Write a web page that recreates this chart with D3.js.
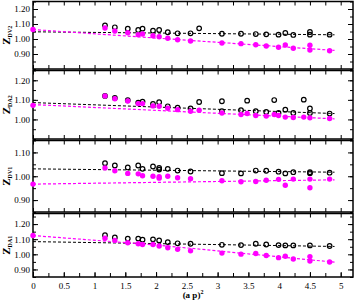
<!DOCTYPE html>
<html>
<head>
<meta charset="utf-8">
<script src="https://cdn.jsdelivr.net/npm/d3@7"></script>
<style>
  body { margin: 0; background: #fff; }
  text { font-family: "Liberation Serif", "Times New Roman", serif; }
</style>
</head>
<body>
<svg id="chart" width="355" height="300"></svg>
<script>
'use strict';

// ---- data ----
var xTicks = [0, 0.5, 1, 1.5, 2, 2.5, 3, 3.5, 4, 4.5, 5];

// Z_DV2
var dv2Open = [[1.17,1.091],[1.33,1.078],[1.54,1.069],[1.71,1.060],[1.78,1.069],[1.95,1.055],[2.05,1.060],[2.19,1.045],[2.35,1.038],[2.56,1.038],[2.70,1.071],[3.07,1.035],[3.38,1.035],[3.62,1.033],[3.79,1.031],[3.99,1.029],[4.10,1.040],[4.23,1.027],[4.50,1.047],[4.50,1.029],[4.82,1.029]];
var dv2Fill = [[0,1.063],[1.17,1.073],[1.33,1.053],[1.54,1.042],[1.71,1.029],[1.78,1.033],[1.95,1.022],[2.05,1.015],[2.19,1.005],[2.35,0.995],[2.56,0.987],[3.07,0.973],[3.38,0.969],[3.62,0.962],[3.79,0.953],[3.99,0.945],[4.10,0.960],[4.23,0.938],[4.50,0.958],[4.50,0.927],[4.82,0.922]];
var dv2FitOpen = [[0,1.048],[4.9,1.028]];
var dv2FitFill = [[0,1.063],[4.9,0.924]];
var dv2Ticks = [0.90, 1.00, 1.10, 1.20];

// Z_DA2
var da2Open = [[1.17,1.120],[1.33,1.110],[1.54,1.098],[1.71,1.086],[1.78,1.091],[1.95,1.079],[2.05,1.088],[2.19,1.067],[2.35,1.060],[2.56,1.056],[2.70,1.089],[3.07,1.093],[3.07,1.042],[3.38,1.047],[3.48,1.096],[3.62,1.042],[3.79,1.038],[3.92,1.099],[3.99,1.033],[4.10,1.050],[4.23,1.033],[4.40,1.101],[4.50,1.056],[4.50,1.033],[4.82,1.030]];
var da2Fill = [[0,1.072],[1.17,1.120],[1.33,1.106],[1.54,1.094],[1.71,1.081],[1.78,1.081],[1.95,1.069],[2.05,1.067],[2.19,1.057],[2.35,1.050],[2.56,1.042],[2.70,1.047],[3.07,1.033],[3.38,1.025],[3.48,1.030],[3.62,1.020],[3.79,1.017],[3.92,1.025],[3.99,1.020],[4.10,1.012],[4.23,1.010],[4.40,1.012],[4.50,1.008],[4.82,1.005]];
var da2FitOpen = [[0,1.086],[4.9,1.030]];
var da2FitFill = [[0,1.076],[4.9,1.003]];
var da2Ticks = [1.00, 1.10, 1.20];

// Z_DV1
var dv1Open = [[1.17,1.055],[1.33,1.045],[1.54,1.037],[1.71,1.045],[1.78,1.031],[1.95,1.041],[2.05,1.035],[2.05,1.028],[2.19,1.031],[2.35,1.024],[2.56,1.020],[3.07,1.013],[3.38,1.012],[3.62,1.024],[3.79,1.023],[3.99,1.019],[4.10,1.012],[4.23,1.017],[4.50,1.017],[4.50,1.013],[4.82,1.015]];
var dv1Fill = [[0,0.967],[1.17,1.035],[1.33,1.023],[1.54,1.012],[1.71,1.010],[1.78,1.002],[1.95,1.000],[2.05,0.998],[2.05,0.992],[2.19,1.000],[2.35,0.994],[2.56,0.990],[3.07,0.981],[3.38,0.977],[3.62,0.978],[3.79,0.983],[3.99,0.987],[4.10,0.962],[4.23,0.988],[4.50,0.988],[4.50,0.952],[4.82,0.988]];
var dv1FitOpen = [[0,1.031],[4.9,1.017]];
var dv1FitFill = [[0,0.967],[4.9,0.985]];
var dv1Ticks = [0.90, 1.00, 1.10];

// Z_DA1
var da1Open = [[1.17,1.126],[1.33,1.112],[1.54,1.104],[1.71,1.104],[1.78,1.097],[1.95,1.099],[2.05,1.092],[2.19,1.081],[2.35,1.073],[2.56,1.070],[3.07,1.063],[3.38,1.061],[3.62,1.070],[3.79,1.065],[3.99,1.061],[4.10,1.059],[4.23,1.059],[4.50,1.059],[4.82,1.055]];
var da1Fill = [[0,1.124],[1.17,1.106],[1.33,1.092],[1.54,1.077],[1.71,1.070],[1.78,1.065],[1.95,1.065],[2.05,1.055],[2.19,1.043],[2.35,1.033],[2.56,1.023],[3.07,1.008],[3.38,1.001],[3.62,1.005],[3.79,0.992],[3.99,0.978],[4.10,0.987],[4.23,0.969],[4.50,0.985],[4.50,0.956],[4.82,0.949]];
var da1FitOpen = [[0,1.084],[4.9,1.052]];
var da1FitFill = [[0,1.124],[2.0,1.062],[4.9,0.948]];
var da1Ticks = [0.90, 1.00, 1.10, 1.20];

var panels = [
  { sub: 'DV2', dom: [0.80, 1.25], open: dv2Open, fill: dv2Fill, fitOpen: dv2FitOpen, fitFill: dv2FitFill, ticks: dv2Ticks },
  { sub: 'DA2', dom: [0.90, 1.25], open: da2Open, fill: da2Fill, fitOpen: da2FitOpen, fitFill: da2FitFill, ticks: da2Ticks },
  { sub: 'DV1', dom: [0.85, 1.15], open: dv1Open, fill: dv1Fill, fitOpen: dv1FitOpen, fitFill: dv1FitFill, ticks: dv1Ticks },
  { sub: 'DA1', dom: [0.85, 1.27], open: da1Open, fill: da1Fill, fitOpen: da1FitOpen, fitFill: da1FitFill, ticks: da1Ticks }
];

// ---- layout ----
var left = 33, right = 353;
var tops = [1.5, 70.5, 140.5, 213.5];
var bottoms = [69, 139, 212, 277];

var svg = d3.select('#chart');
var x = d3.scaleLinear().domain([0, 5.2]).range([left, right]);
var xMinor = d3.range(0, 5.21, 0.25);

panels.forEach(function (p, i) {
  var top = tops[i], bottom = bottoms[i];
  var y = d3.scaleLinear().domain(p.dom).range([bottom, top]);
  var yMinor = d3.range(Math.ceil(p.dom[0] * 20) / 20, p.dom[1] + 0.001, 0.05);
  var g = svg.append('g');

  // axes (ticks point inward)
  function strip(sel) { sel.select('.domain').remove(); sel.selectAll('line').attr('stroke', '#000'); }
  g.append('g').attr('transform', 'translate(' + left + ',0)')
    .call(d3.axisLeft(y).tickValues(yMinor).tickSize(-3).tickFormat('')).call(strip);
  g.append('g').attr('transform', 'translate(' + left + ',0)')
    .call(d3.axisLeft(y).tickValues(p.ticks).tickSize(-5).tickPadding(3).tickFormat(d3.format('.2f')))
    .call(strip)
    .selectAll('text').attr('font-size', 9).attr('fill', '#000')
    .style('font-family', '"Liberation Serif", serif');
  g.append('g').attr('transform', 'translate(' + right + ',0)')
    .call(d3.axisRight(y).tickValues(yMinor).tickSize(-3).tickFormat('')).call(strip);
  g.append('g').attr('transform', 'translate(' + right + ',0)')
    .call(d3.axisRight(y).tickValues(p.ticks).tickSize(-5).tickFormat('')).call(strip);
  g.append('g').attr('transform', 'translate(0,' + top + ')')
    .call(d3.axisTop(x).tickValues(xMinor).tickSize(-4).tickFormat('')).call(strip);
  g.append('g').attr('transform', 'translate(0,' + bottom + ')')
    .call(d3.axisBottom(x).tickValues(xMinor).tickSize(-4).tickFormat('')).call(strip);
  if (i === panels.length - 1) {
    g.append('g').attr('transform', 'translate(0,' + bottom + ')')
      .call(d3.axisBottom(x).tickValues(xTicks).tickSize(-5).tickPadding(6).tickFormat(function (d) { return String(d); }))
      .call(strip)
      .selectAll('text').attr('font-size', 9).attr('fill', '#000')
      .style('font-family', '"Liberation Serif", serif');
  }

  // frame
  g.append('rect').attr('x', left).attr('y', top).attr('width', right - left).attr('height', bottom - top)
    .attr('fill', 'none').attr('stroke', '#000').attr('stroke-width', 1.5);

  // fit lines
  var line = d3.line().x(function (d) { return x(d[0]); }).y(function (d) { return y(d[1]); });
  g.append('path').datum(p.fitOpen).attr('d', line)
    .attr('fill', 'none').attr('stroke', '#000').attr('stroke-width', 1).attr('stroke-dasharray', '3,2');
  g.append('path').datum(p.fitFill).attr('d', line)
    .attr('fill', 'none').attr('stroke', '#ff00ff').attr('stroke-width', 1.2).attr('stroke-dasharray', '3,2');

  // points
  g.selectAll('circle.open').data(p.open).enter().append('circle')
    .attr('cx', function (d) { return x(d[0]); }).attr('cy', function (d) { return y(d[1]); })
    .attr('r', 2.3).attr('fill', 'none').attr('stroke', '#000').attr('stroke-width', 1.2);
  g.selectAll('circle.fill').data(p.fill).enter().append('circle')
    .attr('cx', function (d) { return x(d[0]); }).attr('cy', function (d) { return y(d[1]); })
    .attr('r', 2.7).attr('fill', '#ff00ff');

  // y label
  var ly = (top + bottom) / 2;
  var lab = svg.append('text').attr('transform', 'translate(10,' + ly + ') rotate(-90)')
    .attr('text-anchor', 'middle').attr('font-weight', 'bold').attr('fill', '#000');
  lab.append('tspan').attr('font-size', 11).text('Z');
  lab.append('tspan').attr('font-size', 6).attr('dy', 1.5).text(p.sub);
});

// x title
var xt = svg.append('text').attr('x', (left + right) / 2).attr('y', 298)
  .attr('text-anchor', 'middle').attr('font-weight', 'bold').attr('font-size', 9).attr('fill', '#000');
xt.append('tspan').text('(a p)');
xt.append('tspan').attr('font-size', 6).attr('dy', -4).text('2');
</script>
</body>
</html>
